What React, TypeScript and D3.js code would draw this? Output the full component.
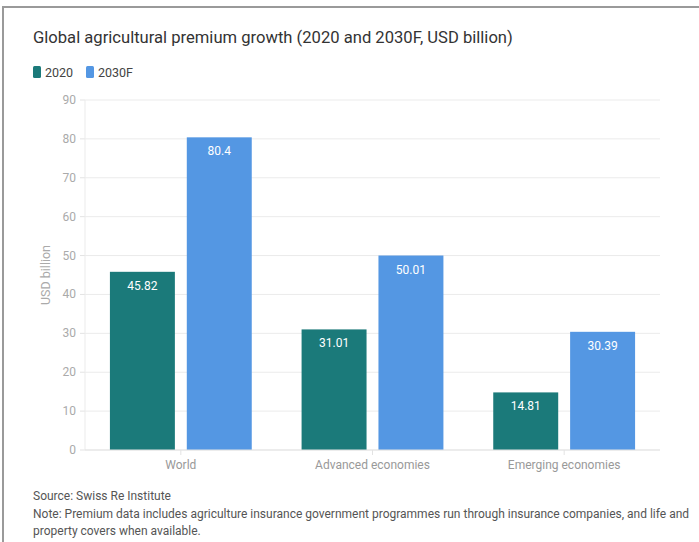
import React from "react";
import * as d3 from "d3";

const categories = ["World", "Advanced economies", "Emerging economies"];
const seriesNames = ["2020", "2030F"];
const values2020 = [45.82, 31.01, 14.81];
const values2030 = [80.4, 50.01, 30.39];
const yTicks = [0, 10, 20, 30, 40, 50, 60, 70, 80, 90];
const colors = ["#1b7a7a", "#5497e3"];

const W = 699;
const H = 542;
const FONT = "Roboto, 'Noto Sans', sans-serif";

export default function App() {
  const left = 85, right = 660, top = 100, bottom = 450;
  const x0 = d3.scaleBand<string>().domain(categories).range([left, right]).paddingInner(0.26).paddingOuter(0.13);
  const x1 = d3.scaleBand<string>().domain(seriesNames).range([0, x0.bandwidth()]).paddingInner(0.155);
  const y = d3.scaleLinear().domain([0, 90]).range([bottom, top]);
  const series = [values2020, values2030];

  return (
    <svg width={W} height={H} style={{ position: "absolute", left: 0, top: 0, background: "#fff" }} fontFamily={FONT}>
      <line x1={3} x2={W} y1={7} y2={7} stroke="#9a9a9a" strokeWidth={2} />
      <line x1={3} x2={3} y1={6} y2={H} stroke="#9a9a9a" strokeWidth={2} />
      <text x={33} y={43} fontSize={16.6} fill="#333">Global agricultural premium growth (2020 and 2030F, USD billion)</text>
      {seriesNames.map((s, i) => {
        const lx = i === 0 ? 33 : 86;
        return (
          <g key={s}>
            <rect x={lx} y={66} width={8} height={12} rx={1.5} fill={colors[i]} />
            <text x={lx + 12} y={77} fontSize={12.5} fill="#444">{s}</text>
          </g>
        );
      })}
      {yTicks.map((t) => (
        <g key={t}>
          <line x1={left} x2={right} y1={y(t)} y2={y(t)} stroke="#ebebeb" strokeWidth={1} />
          <line x1={left - 5} x2={left} y1={y(t)} y2={y(t)} stroke="#e3e3e3" strokeWidth={1} />
          <text x={76} y={y(t) + 4} fontSize={12} fill="#aaa" textAnchor="end">{t}</text>
        </g>
      ))}
      <line x1={left} x2={left} y1={top} y2={bottom} stroke="#ebebeb" strokeWidth={1} />
      <text transform={`translate(50,${(top + bottom) / 2}) rotate(-90)`} fontSize={12.5} fill="#aaa" textAnchor="middle">USD billion</text>
      {categories.map((c, ci) => (
        <g key={c}>
          {series.map((vals, si) => {
            const bx = (x0(c) as number) + (x1(seriesNames[si]) as number);
            const bw = x1.bandwidth();
            return (
              <g key={si}>
                <rect x={bx} y={y(vals[ci])} width={bw} height={y(0) - y(vals[ci])} fill={colors[si]} />
                <text x={bx + bw / 2} y={y(vals[ci]) + 18} fontSize={12} fill="#fff" textAnchor="middle">{vals[ci]}</text>
              </g>
            );
          })}
          <line x1={(x0(c) as number) + x0.bandwidth() / 2} x2={(x0(c) as number) + x0.bandwidth() / 2} y1={bottom} y2={bottom + 5} stroke="#e3e3e3" />
          <text x={(x0(c) as number) + x0.bandwidth() / 2} y={bottom + 19} fontSize={12} fill="#999" textAnchor="middle">{c}</text>
        </g>
      ))}
      <line x1={left} x2={right} y1={bottom} y2={bottom} stroke="#e3e3e3" strokeWidth={1} />
      <text x={33} y={500} fontSize={12} fill="#555">Source: Swiss Re Institute</text>
      <text x={33} y={518} fontSize={12} fill="#555">Note: Premium data includes agriculture insurance government programmes run through insurance companies, and life and</text>
      <text x={33} y={535} fontSize={12} fill="#555">property covers when available.</text>
    </svg>
  );
}
